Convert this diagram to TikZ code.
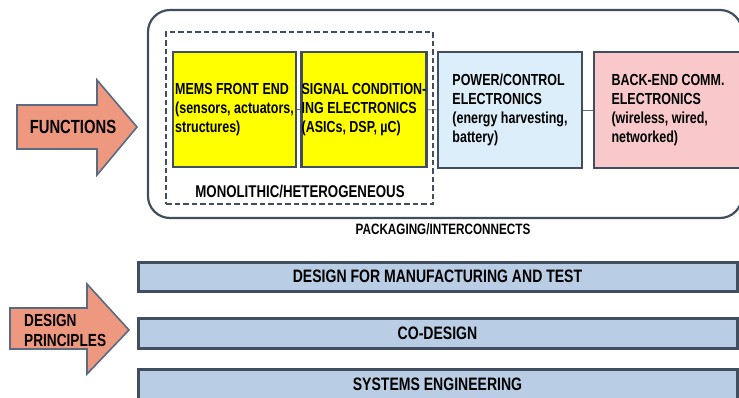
\documentclass[tikz,border=0pt]{standalone}
\usepackage{fontspec}
\setmainfont{Liberation Sans}[FakeStretch=0.78]
\definecolor{frame}{RGB}{64,78,95}
\definecolor{arrowfill}{RGB}{238,152,128}
\definecolor{arrowline}{RGB}{90,106,128}
\definecolor{memsyellow}{RGB}{255,255,0}
\definecolor{powerblue}{RGB}{220,238,250}
\definecolor{commpink}{RGB}{248,200,202}
\definecolor{barblue}{RGB}{185,205,228}
\begin{document}
\begin{tikzpicture}[x=1pt, y=-1pt, font=\bfseries,
    fbox/.style={draw=frame, line width=2.8pt, inner sep=0pt, align=left, font=\fontsize{16}{19}\selectfont\bfseries},
    bar/.style={draw=frame, line width=3pt, fill=barblue, minimum width=599, font=\fontsize{18}{21}\selectfont\bfseries},
    bigarrow/.style={draw=arrowline, line width=1.6pt, fill=arrowfill, line join=miter}]
    \clip (0,0) rectangle (739,397);
    % outer packaging frame
    \node[draw=frame, line width=2.2pt, rounded corners=22pt, minimum width=594, minimum height=208] (pack) at (445,114) {};
    \node[draw=frame, line width=2.6pt, dash pattern=on 5.5pt off 3pt, minimum width=267, minimum height=172] (mono) at (299.5,118) {};
    % function blocks
    \node[fbox, fill=memsyellow, minimum width=123, minimum height=115] (mems) at (234.5,109.5) {MEMS FRONT END\\(sensors, actuators,\\structures)};
    \node[fbox, fill=memsyellow, minimum width=122, minimum height=115] (sig) at (364,109.5) {SIGNAL CONDITION-\\ING ELECTRONICS\\(ASICs, DSP, µC)};
    \node[fbox, fill=powerblue, minimum width=144, minimum height=116] (power) at (510,110) {POWER/CONTROL\\ELECTRONICS\\(energy harvesting,\\battery)};
    \node[fbox, fill=commpink, minimum width=148, minimum height=116] (comm) at (668,110) {BACK-END COMM.\\ELECTRONICS\\(wireless, wired,\\networked)};
    \draw[frame!80, line width=0.7pt] (mems) -- (sig);
    \draw[frame!80, line width=0.7pt] (sig) -- (power);
    \draw[frame!80, line width=0.7pt] (power) -- (comm);
    \node[font=\fontsize{17}{20}\selectfont\bfseries] (monolabel) at (300,192) {MONOLITHIC/HETEROGENEOUS};
    \node[font=\fontsize{15}{18}\selectfont\bfseries] (packlabel) at (443,229) {PACKAGING/INTERCONNECTS};
    % design principles
    \node[bar, minimum height=29] (dfm) at (437.5,276.5) {DESIGN FOR MANUFACTURING AND TEST};
    \node[bar, minimum height=30] (codesign) at (437.5,333) {CO-DESIGN};
    \node[bar, minimum height=30] (syseng) at (437.5,384) {SYSTEMS ENGINEERING};
    % arrows
    \draw[bigarrow] (17,105) -- (97,105) -- (97,80) -- (137,127) -- (97,175) -- (97,149) -- (17,149) -- cycle;
    \node[font=\fontsize{19}{22}\selectfont\bfseries] (func) at (73,127) {FUNCTIONS};
    \draw[bigarrow] (10,308) -- (87,308) -- (87,284) -- (129,330) -- (87,374) -- (87,349) -- (10,349) -- cycle;
    \node[anchor=west, align=left, inner sep=0pt, font=\fontsize{17.5}{20}\selectfont\bfseries] (design) at (24,330) {DESIGN\\PRINCIPLES};
\end{tikzpicture}
\end{document}
